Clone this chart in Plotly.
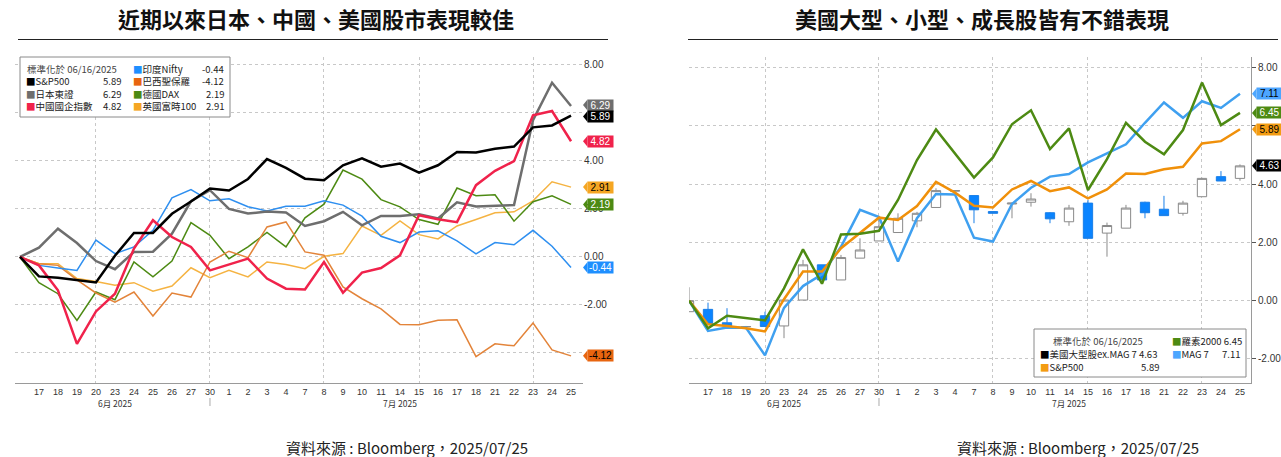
import plotly.graph_objects as go

W, H = 1281, 457

# trading days, 2025-06-16 .. 2025-07-25
days = ["16", "17", "18", "19", "20", "23", "24", "25", "26", "27", "30",
        "1", "2", "3", "4", "7", "8", "9", "10", "11", "14", "15", "16", "17",
        "18", "21", "22", "23", "24", "25"]
months = [("6月 2025", 5), ("7月 2025", 20)]
month_break = 10
grid_days = [4, 10, 16, 21, 27]

# left panel: % change, normalised at 06/16/2025
spx = [0, -0.81, -0.87, -0.95, -1.06, 0.05, 1.00, 1.00, 1.80, 2.31, 2.85, 2.77, 3.25, 4.08, 3.71,
       3.26, 3.20, 3.82, 4.11, 3.76, 3.89, 3.51, 3.82, 4.37, 4.35, 4.51, 4.60, 5.40, 5.48, 5.89]
topix = [0, 0.39, 1.18, 0.58, -0.17, -0.51, 0.21, 0.22, 0.97, 2.32, 2.78, 2.00, 1.81, 1.89, 1.85,
         1.29, 1.49, 1.88, 1.32, 1.71, 1.71, 1.78, 1.60, 2.28, 2.10, 2.13, 2.16, 5.70, 7.26, 6.29]
hscei = [0, -0.35, -1.39, -3.62, -2.27, -1.53, 0.35, 1.53, 0.83, 0.42, -0.56, -0.32, -0.07, -0.90, -1.32,
         -1.35, -0.21, -1.49, -0.65, -0.46, 0.07, 1.74, 1.57, 1.45, 2.99, 3.59, 3.99, 5.90, 6.08, 4.82]
nifty = [0, -0.35, -0.46, -0.56, 0.70, 0.14, 0.42, 1.11, 2.46, 2.81, 2.34, 2.42, 2.09, 1.92, 2.11,
         2.11, 2.34, 2.16, 1.70, 0.86, 0.60, 1.04, 1.09, 0.67, 0.13, 0.60, 0.51, 1.11, 0.45, -0.44]
bovespa = [0, -0.28, -0.35, -0.95, -1.50, -1.88, -1.46, -2.46, -1.50, -1.67, -0.21, 0.24, -0.03, 1.25, 1.46,
           0.21, 0.07, -1.25, -1.74, -2.16, -2.81, -2.82, -2.64, -2.62, -4.15, -3.62, -3.70, -2.75, -3.87, -4.12]
dax = [0, -1.07, -1.53, -2.64, -1.46, -1.78, -0.21, -0.83, -0.17, 1.43, 0.90, -0.07, 0.42, 1.02, 0.42,
       1.63, 2.20, 3.62, 3.24, 2.39, 2.09, 1.56, 1.36, 2.87, 2.55, 2.59, 1.49, 2.30, 2.55, 2.19]
ftse = [0, -0.28, -0.28, -0.90, -1.02, -1.18, -1.07, -1.43, -1.21, -0.45, -0.86, -0.56, -0.83, -0.21, -0.31,
        -0.49, 0.03, 0.14, 1.29, 0.90, 1.50, 0.93, 0.75, 1.29, 1.56, 1.84, 1.88, 2.34, 3.13, 2.91]

# right panel
r2000 = [0, -0.95, -0.52, -0.60, -0.68, 0.42, 1.76, 0.58, 2.27, 2.30, 2.40, 3.46, 4.83, 5.88, 5.06,
         4.23, 4.92, 6.06, 6.54, 5.21, 5.92, 3.80, 4.86, 6.11, 5.46, 5.03, 5.86, 7.49, 6.03, 6.45]
mag7 = [0, -1.04, -0.92, -0.93, -1.88, -0.25, 0.50, 0.90, 1.85, 3.12, 2.87, 1.34, 2.83, 3.66, 3.65,
        2.16, 2.03, 3.32, 3.88, 4.26, 4.35, 4.75, 5.06, 5.37, 6.11, 6.81, 6.28, 6.85, 6.62, 7.11]
exm_open = [-0.38, -0.30, -0.76, -0.90, -0.52, -0.87, 0.02, 1.23, 0.71, 1.46, 2.05, 2.34, 2.74, 3.20, 3.76,
            3.61, 3.06, 3.32, 3.38, 3.02, 2.71, 3.35, 2.32, 2.49, 3.38, 3.14, 3.00, 3.57, 4.26, 4.20]
exm_high = [0.46, -0.07, -0.26, -0.87, -0.38, 0.05, 1.40, 1.23, 1.57, 2.14, 2.83, 3.00, 3.05, 3.86, 3.80,
            3.61, 3.06, 3.36, 3.69, 3.04, 3.29, 3.46, 2.68, 3.29, 3.40, 3.60, 3.43, 4.22, 4.45, 4.68]
exm_low = [-0.38, -0.80, -0.87, -0.90, -0.89, -1.29, 0.02, 0.71, 0.71, 1.46, 2.05, 2.34, 2.52, 3.20, 3.74,
           2.66, 3.00, 2.83, 3.23, 2.66, 2.57, 2.14, 1.51, 2.49, 2.83, 2.92, 2.92, 3.57, 4.11, 4.12]
exm_close = [0.00, -0.80, -0.87, -0.89, -0.89, 0.02, 1.23, 0.71, 1.48, 1.74, 2.54, 2.83, 3.00, 3.78, 3.78,
             3.12, 3.00, 3.35, 3.49, 2.81, 3.18, 2.14, 2.58, 3.18, 3.02, 2.92, 3.35, 4.20, 4.11, 4.63]

# y ticks (labels hidden where the value boxes sit on top of them)
l_ticks = [-4, -2, 0, 2, 4, 6, 8]
l_ticktext = ["", "-2.00", "0.00", "2.00", "4.00", "", "8.00"]
r_ticks = [-2, 0, 2, 4, 6, 8]
r_ticktext = ["-2.00", "0.00", "2.00", "4.00", "", "8.00"]

idx = list(range(len(days)))
FONT = "Noto Sans CJK TC"
NUM = "Liberation Sans"

PLOT_TOP, PLOT_BOT = 57, 383
L_RANGE = [-5.25, 8.33]
R_RANGE = [-2.83, 8.37]


def px(x):
    return x / W


def py(y):
    return 1 - y / H


# name, values, line colour, box colour, box text colour, width
left_series = [
    ("英國富時100", ftse, "#f5b342", "#f5a623", "#000", 1.5),
    ("德國DAX", dax, "#4d8a13", "#4d8a13", "#fff", 1.5),
    ("巴西聖保羅", bovespa, "#e3843a", "#e8650f", "#000", 1.5),
    ("印度Nifty", nifty, "#2e8ff0", "#1e8fff", "#fff", 1.5),
    ("日本東證", topix, "#6e6e6e", "#6e6e6e", "#fff", 2.5),
    ("中國國企指數", hscei, "#f0224b", "#f0224b", "#fff", 2.5),
    ("S&P500", spx, "#000000", "#000000", "#fff", 2.5),
]
right_series = [
    ("MAG 7", mag7, "#3fa0f0", "#4da6ff", "#000", 2.5),
    ("S&P500", spx, "#f0900a", "#f39c12", "#000", 2.5),
    ("羅素2000", r2000, "#4d8a13", "#4d8a13", "#fff", 2.5),
]

fig = go.Figure()
for name, vals, color, _, _, wd in left_series:
    fig.add_trace(go.Scatter(x=idx, y=vals, mode="lines", name=name,
                             line=dict(color=color, width=wd), xaxis="x", yaxis="y"))

fig.add_trace(go.Candlestick(
    x=idx, open=exm_open, high=exm_high, low=exm_low, close=exm_close,
    name="美國大型股ex.MAG 7", xaxis="x2", yaxis="y2", whiskerwidth=0,
    increasing=dict(line=dict(color="#8a8a8a", width=1), fillcolor="white"),
    decreasing=dict(line=dict(color="#1a7fe8", width=1), fillcolor="#0a84ff")))
for name, vals, color, _, _, wd in right_series:
    fig.add_trace(go.Scatter(x=idx, y=vals, mode="lines", name=name,
                             line=dict(color=color, width=wd), xaxis="x2", yaxis="y2"))

grid = dict(showgrid=True, gridcolor="#c8c8c8", griddash="dot", gridwidth=1)
tickf = dict(family=NUM, size=9, color="#333")


def xaxis(dom, rng, anchor):
    return dict(domain=dom, range=rng, anchor=anchor, tickmode="array",
                tickvals=idx[1:], ticktext=days[1:], showgrid=False, zeroline=False,
                showline=True, linecolor="#9a9a9a", ticks="", ticklen=0, tickfont=tickf,
                rangeslider=dict(visible=False),
                minor=dict(tickmode="array", tickvals=grid_days, ticks="", **grid))


ydom = [py(PLOT_BOT), py(PLOT_TOP)]
fig.update_layout(
    width=W, height=H, margin=dict(l=0, r=0, t=0, b=0),
    paper_bgcolor="white", plot_bgcolor="white", showlegend=False,
    font=dict(family=FONT, color="#222"),
    xaxis=xaxis([px(15), px(583)], [-0.26, 29.63], "y"),
    xaxis2=xaxis([px(689), px(1251)], [0, 29.58], "y2"),
    yaxis=dict(domain=ydom, range=L_RANGE, side="right", anchor="x",
               tickmode="array", tickvals=l_ticks, ticktext=l_ticktext, zeroline=False,
               showline=False, ticks="", tickfont=dict(family=NUM, size=10, color="#333"), **grid),
    yaxis2=dict(domain=ydom, range=R_RANGE, side="right", anchor="x2",
                tickmode="array", tickvals=r_ticks, ticktext=r_ticktext, zeroline=False,
                showline=True, linecolor="#9a9a9a", ticks="outside", ticklen=4,
                tickcolor="#555", tickfont=dict(family=NUM, size=10, color="#333"), **grid),
)

ann = []
shapes = []

# titles, underlines and source notes
for text, cx, x0, x1, fx in [
    ("近期以來日本、中國、美國股市表現較佳", 316, 18, 608, 407),
    ("美國大型、小型、成長股皆有不錯表現", 982, 688, 1278, 1078),
]:
    ann.append(dict(text=f"<b>{text}</b>", x=px(cx), y=py(18), xref="paper", yref="paper",
                    showarrow=False, xanchor="center", yanchor="middle",
                    font=dict(family=FONT, size=22, color="#111")))
    shapes.append(dict(type="line", xref="paper", yref="paper", x0=px(x0), x1=px(x1),
                       y0=py(39.5), y1=py(39.5), line=dict(color="#222", width=1.2)))
    ann.append(dict(text="資料來源 : Bloomberg，2025/07/25", x=px(fx), y=py(447), xref="paper",
                    yref="paper", showarrow=False, xanchor="center", yanchor="middle",
                    font=dict(family=FONT, size=15, color="#222")))

# month labels and separators
for xr in ["x", "x2"]:
    for label, pos in months:
        ann.append(dict(text=label, x=pos, y=py(403), xref=xr, yref="paper", showarrow=False,
                        xanchor="center", yanchor="middle", font=dict(family=FONT, size=8.5, color="#333")))
    shapes.append(dict(type="line", xref=xr, yref="paper", x0=month_break, x1=month_break,
                       y0=py(398), y1=py(406), line=dict(color="#aaa", width=1)))


# last-value boxes (pointer tags) on the right axis, nudged apart where they collide
def value_boxes(items, rng, xl, gap_px=11.5):
    unit = (PLOT_BOT - PLOT_TOP) / (rng[1] - rng[0])
    items = sorted(items, key=lambda t: -t[0])
    pos = [PLOT_BOT - (v - rng[0]) * unit for v, _, _ in items]
    for _ in range(20):
        for i in range(len(pos) - 1):
            d = pos[i + 1] - pos[i]
            if d < gap_px:
                pos[i] -= (gap_px - d) / 2
                pos[i + 1] += (gap_px - d) / 2
    for (v, box, tc), yp in zip(items, pos):
        ann.append(dict(text=f"{v:.2f}", x=px(xl), y=py(yp), xref="paper", yref="paper",
                        showarrow=False, xanchor="left", yanchor="middle", bgcolor=box,
                        width=25, height=11, align="center", borderpad=0,
                        font=dict(family=NUM, size=10, color=tc)))
        shapes.append(dict(type="path", xref="paper", yref="paper", fillcolor=box, line_width=0,
                           path=f"M {px(xl + 0.5)},{py(yp - 5.5)} L {px(xl - 4)},{py(yp)} "
                                f"L {px(xl + 0.5)},{py(yp + 5.5)} Z"))


value_boxes([(s[1][-1], s[3], s[4]) for s in left_series], L_RANGE, 587)
value_boxes([(s[1][-1], s[3], s[4]) for s in right_series] + [(exm_close[-1], "#000", "#fff")],
            R_RANGE, 1256)


def leg_item(name, color, value, x_name, x_val, y, fs=9.5):
    ann.append(dict(text=f"<span style='color:{color}'>■</span>{name}", x=px(x_name), y=py(y),
                    xref="paper", yref="paper", showarrow=False, xanchor="left", yanchor="middle",
                    font=dict(family=FONT, size=fs, color="#222")))
    if value is not None:
        ann.append(dict(text=f"{value:.2f}", x=px(x_val), y=py(y), xref="paper", yref="paper",
                        showarrow=False, xanchor="right", yanchor="middle",
                        font=dict(family=FONT, size=fs, color="#222")))


# left legend box
shapes.append(dict(type="rect", xref="paper", yref="paper", x0=px(20), x1=px(230),
                   y0=py(117), y1=py(57), line=dict(color="#8a8a8a", width=1), fillcolor="white"))
ann.append(dict(text="標準化於 06/16/2025", x=px(25), y=py(69), xref="paper", yref="paper",
                showarrow=False, xanchor="left", yanchor="middle",
                font=dict(family=FONT, size=9.5, color="#444")))
lmap = {s[0]: s for s in left_series}
for row, name in enumerate(["S&P500", "日本東證", "中國國企指數"], start=1):
    s = lmap[name]
    leg_item(name, s[3], s[1][-1], 24, 123, 69 + 12.4 * row)
for row, name in enumerate(["印度Nifty", "巴西聖保羅", "德國DAX", "英國富時100"]):
    s = lmap[name]
    leg_item(name, s[3], s[1][-1], 131, 226, 69 + 12.4 * row)

# right legend box
shapes.append(dict(type="rect", xref="paper", yref="paper", x0=px(1034), x1=px(1246),
                   y0=py(377), y1=py(329), line=dict(color="#8a8a8a", width=1), fillcolor="white"))
ann.append(dict(text="標準化於 06/16/2025", x=px(1051), y=py(341), xref="paper", yref="paper",
                showarrow=False, xanchor="left", yanchor="middle",
                font=dict(family=FONT, size=9.5, color="#444")))
leg_item(f"羅素2000 {r2000[-1]:.2f}", "#4d8a13", None, 1170, None, 341)
leg_item(f"美國大型股ex.MAG 7 {exm_close[-1]:.2f}", "#000", None, 1038, None, 354)
leg_item("MAG 7", "#4da6ff", mag7[-1], 1170, 1242, 354)
leg_item("S&P500", "#f39c12", spx[-1], 1038, 1161, 366.5)

fig.update_layout(annotations=ann, shapes=shapes)
fig.write_html("out.html", config={"displayModeBar": False},
               post_script="document.body.style.margin='0';")
